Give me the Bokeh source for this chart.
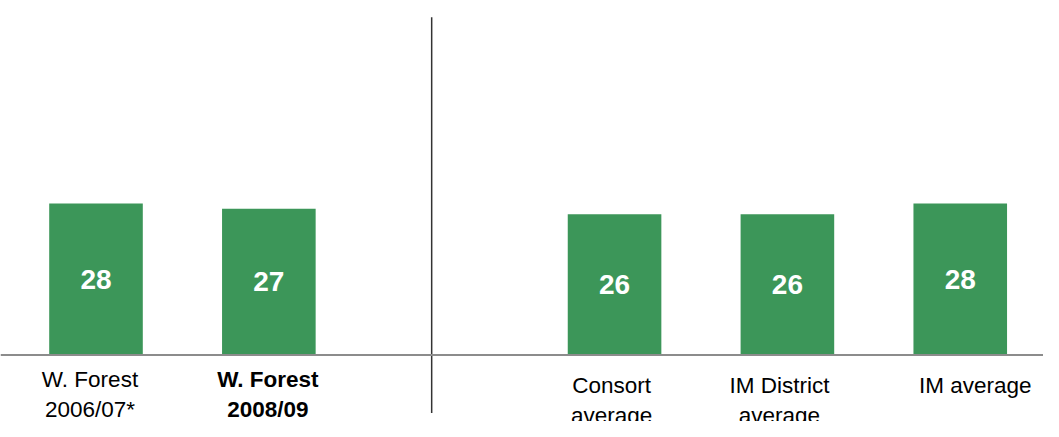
from bokeh.plotting import figure
from bokeh.models import ColumnDataSource, Span
from bokeh.core.properties import value
from bokeh.embed import file_html
from bokeh.resources import INLINE

# ---- data ----
left_categories = ["W. Forest\n2006/07*", "W. Forest\n2008/09"]
left_values = [28, 27]
right_categories = ["Consort\naverage", "IM District\naverage", "IM average"]
right_values = [26, 26, 28]

# slots: left group, one empty gap slot, right group
gap_index = len(left_categories)
left_x = list(range(len(left_categories)))
right_x = [gap_index + 1 + i for i in range(len(right_categories))]

xs = left_x + right_x
vals = left_values + right_values
labels = left_categories + right_categories
weights = ["normal", "bold", "normal", "normal", "normal"]
label_xoff = [-6, -1, -3, -8, 15]
label_yoff = [11.5, 11.5, 18, 18, 18]

src = ColumnDataSource(dict(
    x=xs, top=vals, mid=[v / 2 for v in vals], txt=[str(v) for v in vals],
    lab=labels, fw=weights, xo=label_xoff, yo=label_yoff, zero=[0] * len(vals),
))

W, H = 1043, 421
px_per_slot = 172.85
first_center = 95.5
px_per_unit = 5.414
base_px = 354.5

p = figure(
    width=W, height=H, output_backend="svg", toolbar_location=None,
    x_range=(-first_center / px_per_slot, (W - first_center) / px_per_slot),
    y_range=(-(H - base_px) / px_per_unit, base_px / px_per_unit),
    min_border=0, min_border_left=0, min_border_right=0,
    min_border_top=0, min_border_bottom=0,
)
p.axis.visible = False
p.grid.visible = False
p.outline_line_color = None
p.background_fill_color = "white"
p.border_fill_color = "white"

p.vbar(x="x", top="top", bottom=0, width=93.6 / px_per_slot, source=src,
       fill_color="#3C9659", line_color=None)

p.add_layout(Span(location=0, dimension="width", line_color="#8C8C8C", line_width=2))

sep_x = gap_index - 0.058
p.segment(x0=[sep_x], y0=[62.4], x1=[sep_x], y1=[-10.7],
          line_color="#333333", line_width=1.5)

p.text(x="x", y="mid", text="txt", source=src, text_color="white",
       text_font=value("Liberation Sans"), text_font_style="bold",
       text_font_size="28px", text_align="center", text_baseline="middle")

p.text(x="x", y="zero", text="lab", source=src, text_color="black",
       text_font=value("Liberation Sans"), text_font_style="fw",
       text_font_size="22.5px", text_align="center", text_baseline="top",
       x_offset="xo", y_offset="yo", text_line_height=1.2)

open("out.html", "w").write(file_html(p, INLINE))
